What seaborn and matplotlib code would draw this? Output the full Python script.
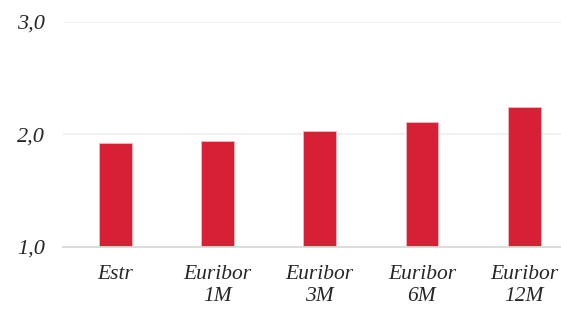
import pandas as pd
import numpy as np
import matplotlib.pyplot as plt
import seaborn as sns

# Rates by reference index
categories = ['Estr', 'Euribor\n1M', 'Euribor\n3M', 'Euribor\n6M', 'Euribor\n12M']
values = [1.92, 1.94, 2.025, 2.11, 2.24]
y_ticks = [1.0, 2.0, 3.0]
y_tick_labels = ['1,0', '2,0', '3,0']

df = pd.DataFrame({'index': categories, 'rate': values})

sns.set_style('white')
plt.rcParams['font.family'] = ['Liberation Serif', 'DejaVu Serif']

fig = plt.figure(figsize=(5.61, 3.10), dpi=100)
ax = fig.add_axes([63 / 561, 1 - 246.5 / 310, 1 - 63 / 561, (246.5 - 22) / 310])

sns.barplot(x='index', y='rate', data=df, color='#d72035', saturation=1, width=0.32,
            edgecolor='#f2b8bf', linewidth=0.6, ax=ax, zorder=3)

ax.set_ylim(1.0, 3.0)
ax.set_xlim(-0.51, 4.36)
ax.set_yticks(y_ticks)
ax.set_yticklabels(y_tick_labels, fontsize=16, style='italic')
ax.set_xticks(range(len(categories)))
ax.set_xticklabels(categories, fontsize=15.5, style='italic', linespacing=1.25)
ax.tick_params(axis='x', length=0, pad=13)
ax.tick_params(axis='y', length=0, pad=13)

ax.yaxis.grid(True, color='#f0f0f0', linewidth=1.3, zorder=0)
for s in ['top', 'right', 'left']:
    ax.spines[s].set_visible(False)
ax.spines['bottom'].set_color('#d9d9d9')
ax.spines['bottom'].set_linewidth(1.3)
ax.spines['bottom'].set_zorder(4)

ax.set_xlabel('')
ax.set_ylabel('')

fig.savefig('out.png', dpi=100)
